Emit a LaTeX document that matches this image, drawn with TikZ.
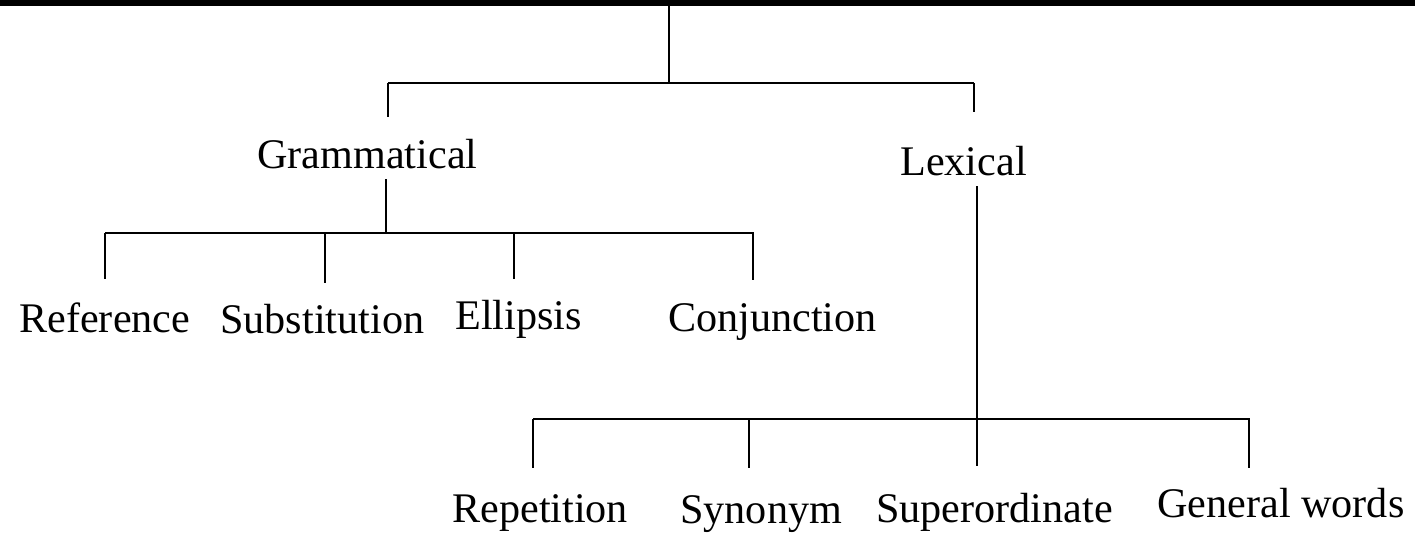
\documentclass[tikz,border=0pt]{standalone}
\usepackage{fontspec}
\setmainfont{Liberation Serif}
\tikzset{
  leaf/.style={anchor=base west, inner sep=0pt, font=\fontsize{24}{29}\selectfont},
  branch/.style={line width=1.1pt},
  bar/.style={line width=1.3pt}
}

\begin{document}
\begin{tikzpicture}[x=0.02cm, y=-0.02cm]
  \useasboundingbox (0,0) rectangle (1415,535);
  \fill[black] (0,0) rectangle (1415,6);

  % first split
  \coordinate (root) at (669,5);
  \coordinate (rootj) at (669,83);
  \coordinate (gramj) at (388,83);
  \coordinate (lexj) at (974,83);
  \coordinate (gramin) at (388,117);
  \coordinate (lexin) at (974,112);
  \draw[branch] (root) -- (rootj);
  \draw[bar] (gramj) -- (lexj);
  \draw[branch] (gramj) -- (gramin);
  \draw[branch] (lexj) -- (lexin);

  \node[leaf] (gram) at (257,168) {Grammatical};
  \node[leaf] (lex) at (900,175) {Lexical};

  % grammatical
  \coordinate (gramout) at (386,179);
  \coordinate (gbar) at (386,233);
  \coordinate (gbarl) at (105,233);
  \coordinate (gbarr) at (754,233);
  \draw[branch] (gramout) -- (gbar);
  \draw[bar] (gbarl) -- (gbarr);
  \foreach \x/\y/\n in {105/279/ref, 325/283/subst, 514/279/ellip, 753/280/conj}
    \draw[branch] (\x,233) coordinate (\n top) -- (\x,\y) coordinate (\n in);

  \node[leaf] (ref) at (19,332) {Reference};
  \node[leaf] (subst) at (220,333) {Substitution};
  \node[leaf] (ellip) at (455,329) {Ellipsis};
  \node[leaf] (conj) at (668,331) {Conjunction};

  % lexical
  \coordinate (lexout) at (977,186);
  \coordinate (lbar) at (977,419);
  \coordinate (lbarl) at (533,419);
  \coordinate (lbarr) at (1250,419);
  \draw[branch] (lexout) -- (lbar);
  \draw[bar] (lbarl) -- (lbarr);
  \foreach \x/\y/\n in {533/468/rep, 749/468/syn, 977/466/super, 1249/468/genw}
    \draw[branch] (\x,419) coordinate (\n top) -- (\x,\y) coordinate (\n in);

  \node[leaf] (rep) at (452,522) {Repetition};
  \node[leaf] (syn) at (680,523) {Synonym};
  \node[leaf] (super) at (876,522) {Superordinate};
  \node[leaf] (genw) at (1157,517) {General words};
\end{tikzpicture}
\end{document}
